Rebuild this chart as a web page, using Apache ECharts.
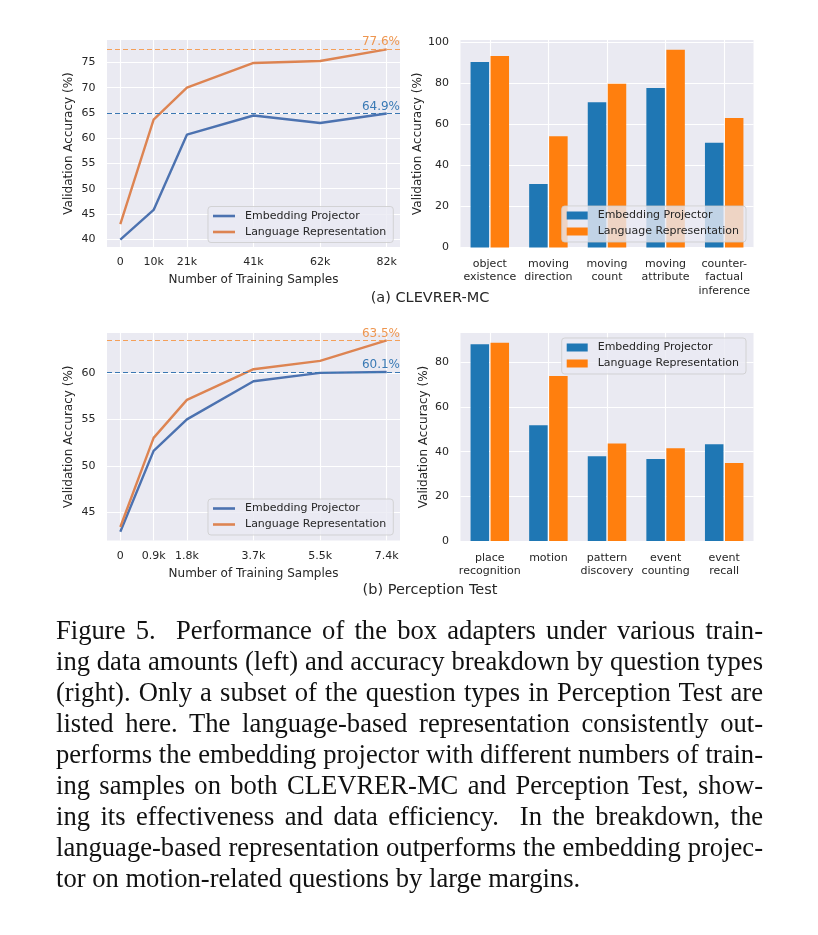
<!DOCTYPE html>
<html>
<head>
<meta charset="utf-8">
<script src="https://cdn.jsdelivr.net/npm/echarts@6/dist/echarts.min.js"></script>
<style>
html, body { margin: 0; padding: 0; background: #fff; }
#chart { position: absolute; left: 0; top: 0; width: 818px; height: 935px; }
#caption { position: absolute; left: 56px; top: 615px; width: 707px;
  font-family: "Liberation Serif", "Times New Roman", serif; font-size: 26.6px; line-height: 31px; color: #111; }
#caption div { text-align: justify; text-align-last: justify; }
#caption div.last { text-align-last: left; }
</style>
</head>
<body>
<div id="chart"></div>
<div id="caption">
<div>Figure 5.&nbsp; Performance of the box adapters under various train-</div>
<div>ing data amounts (left) and accuracy breakdown by question types</div>
<div>(right). Only a subset of the question types in Perception Test are</div>
<div>listed here. The language-based representation consistently out-</div>
<div>performs the embedding projector with different numbers of train-</div>
<div>ing samples on both CLEVRER-MC and Perception Test, show-</div>
<div>ing its effectiveness and data efficiency.&nbsp; In the breakdown, the</div>
<div>language-based representation outperforms the embedding projec-</div>
<div class="last">tor on motion-related questions by large margins.</div>
</div>
<script>
// ---- Data ----
const lineA_x = [0, 10.25, 20.5, 41, 61.5, 82];
const lineA_tickLabels = ['0', '10k', '21k', '41k', '62k', '82k'];
const lineA_embedding = [39.9, 45.8, 60.7, 64.5, 63.0, 64.9];
const lineA_language = [43.0, 63.7, 70.0, 74.9, 75.3, 77.6];
const lineA_yTicks = [40, 45, 50, 55, 60, 65, 70, 75];

const barB_categories = ['object\nexistence', 'moving\ndirection', 'moving\ncount', 'moving\nattribute', 'counter-\nfactual\ninference'];
const barB_embedding = [90.5, 31.0, 70.8, 77.8, 51.1];
const barB_language = [93.4, 54.2, 79.9, 96.4, 63.1];
const barB_yTicks = [0, 20, 40, 60, 80, 100];

const lineC_x = [0, 0.925, 1.85, 3.7, 5.55, 7.4];
const lineC_tickLabels = ['0', '0.9k', '1.8k', '3.7k', '5.5k', '7.4k'];
const lineC_embedding = [42.9, 51.6, 55.0, 59.1, 60.0, 60.1];
const lineC_language = [43.4, 53.0, 57.1, 60.4, 61.3, 63.5];
const lineC_yTicks = [45, 50, 55, 60];

const barD_categories = ['place\nrecognition', 'motion', 'pattern\ndiscovery', 'event\ncounting', 'event\nrecall'];
const barD_embedding = [88.2, 51.9, 38.0, 36.7, 43.3];
const barD_language = [88.8, 73.9, 43.7, 41.6, 35.0];
const barD_yTicks = [0, 20, 40, 60, 80];

const legendNames = {
  EP_line: 'Embedding Projector', LR_line: 'Language Representation',
  EP_bar: 'Embedding Projector', LR_bar: 'Language Representation'
};

// ---- Style ----
const FONT = '"DejaVu Sans", sans-serif';
const TXT = '#262626';
const BG = '#EAEAF2';
const BLUE_LINE = '#4C72B0', ORANGE_LINE = '#DD8452';
const BLUE_BAR = '#1f77b4', ORANGE_BAR = '#ff7f0e';
const WHITE_SPLIT = { show: true, lineStyle: { color: '#ffffff', width: 1.1 } };

function tickLabelStyle(extra) {
  return Object.assign({ fontFamily: FONT, fontSize: 11, color: TXT }, extra || {});
}

function lineXAxis(gridIndex, xs, labels) {
  const max = xs[xs.length - 1];
  const pad = max * 0.05;
  return {
    type: 'value', gridIndex, min: -pad, max: max + pad,
    name: 'Number of Training Samples', nameLocation: 'middle', nameGap: 27,
    nameTextStyle: { fontFamily: FONT, fontSize: 12, color: TXT },
    axisLine: { show: false }, axisTick: { show: false, customValues: xs },
    axisLabel: tickLabelStyle({ customValues: xs, margin: 10,
      formatter: v => { const i = xs.indexOf(v); return i >= 0 ? labels[i] : ''; } }),
    splitLine: WHITE_SPLIT
  };
}
function yAxisCfg(gridIndex, min, max, ticks, nameGap) {
  return {
    type: 'value', gridIndex, min, max,
    name: 'Validation Accuracy (%)', nameLocation: 'middle', nameGap,
    nameTextStyle: { fontFamily: FONT, fontSize: 12, color: TXT },
    axisLine: { show: false }, axisTick: { show: false, customValues: ticks },
    axisLabel: tickLabelStyle({ customValues: ticks, margin: 11.5 }),
    splitLine: WHITE_SPLIT
  };
}
function catXAxis(gridIndex, cats) {
  return {
    type: 'category', gridIndex, data: cats,
    axisLine: { show: false }, axisTick: { show: false, alignWithLabel: true },
    axisLabel: tickLabelStyle({ interval: 0, margin: 10, lineHeight: 13.4 }),
    splitLine: { show: true, alignWithLabel: true, interval: 0, lineStyle: { color: '#ffffff', width: 1.1 } }
  };
}
function lineSeries(name, axisIdx, xs, ys, color, refColor, labelColor) {
  return {
    type: 'line', name, xAxisIndex: axisIdx, yAxisIndex: axisIdx,
    data: xs.map((x, i) => [x, ys[i]]),
    symbol: 'none', showSymbol: false,
    lineStyle: { width: 2.4, color }, itemStyle: { color },
    markLine: {
      silent: true, symbol: 'none',
      data: [{ yAxis: ys[ys.length - 1] }],
      lineStyle: { type: [5, 3], width: 1.2, color: refColor },
      label: { position: 'insideEndTop', distance: [0, 1], color: labelColor,
        fontFamily: FONT, fontSize: 12, formatter: p => p.value.toFixed(1) + '%' }
    }
  };
}
function barSeries(name, axisIdx, ys, color) {
  return {
    type: 'bar', name, xAxisIndex: axisIdx, yAxisIndex: axisIdx, data: ys,
    barWidth: 18.5, barGap: '8%', itemStyle: { color }
  };
}
function legendCfg(left, top, names, isBar) {
  return {
    orient: 'vertical', left, top, selectedMode: false,
    padding: [3, 7, 4, 5], itemGap: 3,
    itemWidth: isBar ? 21 : 22, itemHeight: isBar ? 8 : 2.6,
    icon: 'rect',
    data: names.map(n => ({ name: n, icon: 'rect' })),
    formatter: n => legendNames[n],
    textStyle: { fontFamily: FONT, fontSize: 11, color: TXT, lineHeight: 13, padding: [0, 0, 0, 5] },
    backgroundColor: 'rgba(234,234,242,0.8)', borderColor: 'rgba(204,204,204,0.8)',
    borderWidth: 1, borderRadius: 3
  };
}

const chart = echarts.init(document.getElementById('chart'), null, { renderer: 'canvas' });
const gridBase = { show: true, backgroundColor: BG, borderWidth: 0, containLabel: false };
chart.setOption({
  animation: false,
  backgroundColor: '#ffffff',
  grid: [
    Object.assign({ left: 107, top: 40, width: 293, height: 207 }, gridBase),
    Object.assign({ left: 460.5, top: 40, width: 293, height: 207.5 }, gridBase),
    Object.assign({ left: 107, top: 333, width: 293, height: 207.5 }, gridBase),
    Object.assign({ left: 460.5, top: 333, width: 293, height: 208 }, gridBase)
  ],
  xAxis: [
    lineXAxis(0, lineA_x, lineA_tickLabels),
    catXAxis(1, barB_categories),
    lineXAxis(2, lineC_x, lineC_tickLabels),
    catXAxis(3, barD_categories)
  ],
  yAxis: [
    yAxisCfg(0, 38.45, 79.45, lineA_yTicks, 32),
    yAxisCfg(1, 0, 101.2, barB_yTicks, 37),
    yAxisCfg(2, 41.95, 64.3, lineC_yTicks, 32),
    yAxisCfg(3, 0, 93.2, barD_yTicks, 31)
  ],
  legend: [
    legendCfg(208, 206.5, ['EP_line', 'LR_line'], false),
    legendCfg(561.7, 206, ['EP_bar', 'LR_bar'], true),
    legendCfg(208, 499, ['EP_line', 'LR_line'], false),
    legendCfg(561.7, 338, ['EP_bar', 'LR_bar'], true)
  ],
  graphic: [
    { type: 'text', x: 430, y: 298, style: { text: '(a) CLEVRER-MC', align: 'center', verticalAlign: 'middle',
      font: '14.5px "DejaVu Sans", sans-serif', fill: TXT } },
    { type: 'text', x: 430, y: 590, style: { text: '(b) Perception Test', align: 'center', verticalAlign: 'middle',
      font: '14.5px "DejaVu Sans", sans-serif', fill: TXT } }
  ],
  series: [
    lineSeries('EP_line', 0, lineA_x, lineA_embedding, BLUE_LINE, '#3a77b2', '#3a7ab5'),
    lineSeries('LR_line', 0, lineA_x, lineA_language, ORANGE_LINE, '#f4a05a', '#ee9650'),
    barSeries('EP_bar', 1, barB_embedding, BLUE_BAR),
    barSeries('LR_bar', 1, barB_language, ORANGE_BAR),
    lineSeries('EP_line', 2, lineC_x, lineC_embedding, BLUE_LINE, '#3a77b2', '#3a7ab5'),
    lineSeries('LR_line', 2, lineC_x, lineC_language, ORANGE_LINE, '#f4a05a', '#ee9650'),
    barSeries('EP_bar', 3, barD_embedding, BLUE_BAR),
    barSeries('LR_bar', 3, barD_language, ORANGE_BAR)
  ]
});
</script>
</body>
</html>
